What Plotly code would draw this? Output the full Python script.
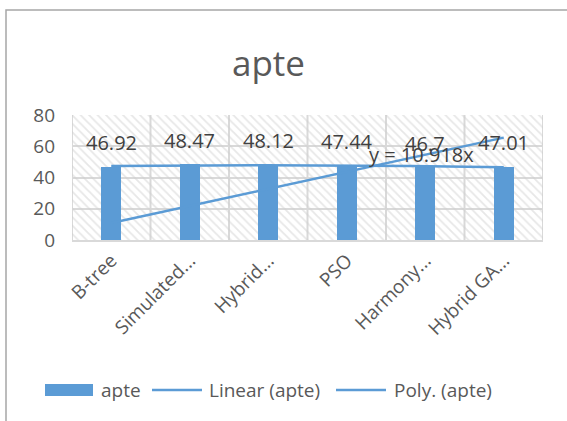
import numpy as np
import plotly.graph_objects as go

# Chart data
categories = ["B-tree", "Simulated...", "Hybrid...", "PSO", "Harmony...", "Hybrid GA..."]
apte = [46.92, 48.47, 48.12, 47.44, 46.7, 47.01]
y_ticks = [0, 20, 40, 60, 80]
series_name = "apte"

BLUE = "#5b9bd5"
TEXT = "#595959"
GRID = "#d9d9d9"
FONT = "Open Sans"

W, H = 567, 421
L, R, T, B = 72, 24, 115, 181
pw, ph = W - L - R, H - T - B


def px(xp):
    return (xp - L) / pw


def py(yp):
    return (H - B - yp) / ph


n = len(categories)
idx = np.arange(n)
xs = idx + 1  # trendline x (1-based, as in spreadsheet trendlines)
vals = np.array(apte)

# Linear trendline forced through the origin
slope = float(np.sum(xs * vals) / np.sum(xs * xs))
lin_y = slope * xs

# Polynomial (order 2) trendline
coef = np.polyfit(xs, vals, 2)
xf = np.linspace(1, n, 200)
poly_y = np.polyval(coef, xf)

fig = go.Figure()

# hatched plot-area fill
fig.add_trace(go.Bar(
    x=[(n - 1) / 2], y=[y_ticks[-1]], width=[n], base=0,
    marker=dict(color="rgba(0,0,0,0)", line=dict(width=0),
                pattern=dict(shape="\\", fgcolor="#cfcfcf", bgcolor="rgba(0,0,0,0)",
                             size=6, solidity=0.3)),
    hoverinfo="skip", showlegend=False,
))

fig.add_trace(go.Bar(
    x=idx, y=apte, width=0.26, marker=dict(color=BLUE, line=dict(width=0)),
    name=series_name, showlegend=False,
))

fig.add_trace(go.Scatter(
    x=idx, y=lin_y, mode="lines", line=dict(color=BLUE, width=2.5),
    name="Linear (apte)", showlegend=False,
))
fig.add_trace(go.Scatter(
    x=xf - 1, y=poly_y, mode="lines", line=dict(color=BLUE, width=2.5),
    name="Poly. (apte)", showlegend=False,
))

annotations = []
# value labels
for i, v in enumerate(apte):
    annotations.append(dict(
        x=i, y=v, xref="x", yref="y", text=f"{v:g}", showarrow=False,
        yshift=24, font=dict(family=FONT, size=20, color="#404040"),
    ))

# trendline equation
annotations.append(dict(
    x=3.95, y=54.5, xref="x", yref="y", text=f"y = {slope:.3f}x", showarrow=False,
    font=dict(family=FONT, size=20, color="#404040"),
))

# title
annotations.append(dict(
    x=px(268), y=py(62), xref="paper", yref="paper", text="apte", showarrow=False,
    font=dict(family=FONT, size=35, color=TEXT), xanchor="center", yanchor="middle",
))

shapes = []
# vertical gridlines at category boundaries
for k in range(n + 1):
    shapes.append(dict(type="line", xref="x", yref="y", x0=k - 0.5, x1=k - 0.5,
                       y0=0, y1=y_ticks[-1], line=dict(color=GRID, width=2), layer="below"))

# outer chart border
shapes.append(dict(
    type="path", xref="paper", yref="paper",
    path=f"M {px(6)},{py(430)} L {px(6)},{py(10)} L {px(570)},{py(10)}",
    line=dict(color="#a6a6a6", width=1.5),
))

# legend
leg_y = 390
shapes.append(dict(type="rect", xref="paper", yref="paper",
                   x0=px(45), x1=px(93), y0=py(396), y1=py(384),
                   fillcolor=BLUE, line=dict(width=0)))
shapes.append(dict(type="line", xref="paper", yref="paper",
                   x0=px(152), x1=px(202), y0=py(leg_y), y1=py(leg_y),
                   line=dict(color=BLUE, width=2.5)))
shapes.append(dict(type="line", xref="paper", yref="paper",
                   x0=px(336), x1=px(386), y0=py(leg_y), y1=py(leg_y),
                   line=dict(color=BLUE, width=2.5)))
for xl, label in [(99, series_name), (207, "Linear (apte)"), (392, "Poly. (apte)")]:
    annotations.append(dict(
        x=px(xl), y=py(leg_y), xref="paper", yref="paper", text=label, showarrow=False,
        xanchor="left", yanchor="middle", font=dict(family=FONT, size=19, color=TEXT),
    ))

fig.update_layout(
    width=W, height=H,
    margin=dict(l=L, r=R, t=T, b=B),
    paper_bgcolor="white", plot_bgcolor="white",
    barmode="overlay", bargap=0,
    showlegend=False,
    font=dict(family=FONT, color=TEXT),
    annotations=annotations,
    shapes=shapes,
    xaxis=dict(
        range=[-0.5, n - 0.5], tickmode="array", tickvals=list(idx), ticktext=categories,
        tickangle=-45, showgrid=False, zeroline=False,
        showline=True, linecolor=GRID, linewidth=2,
        tickfont=dict(family=FONT, size=19, color=TEXT), fixedrange=True,
    ),
    yaxis=dict(
        range=[0, y_ticks[-1]], tickvals=y_ticks, showgrid=True, gridcolor=GRID, gridwidth=2,
        zeroline=False, showline=False, ticklabelstandoff=16,
        tickfont=dict(family=FONT, size=19, color=TEXT), fixedrange=True,
    ),
)

fig.write_html("out.html", config={"displayModeBar": False})
